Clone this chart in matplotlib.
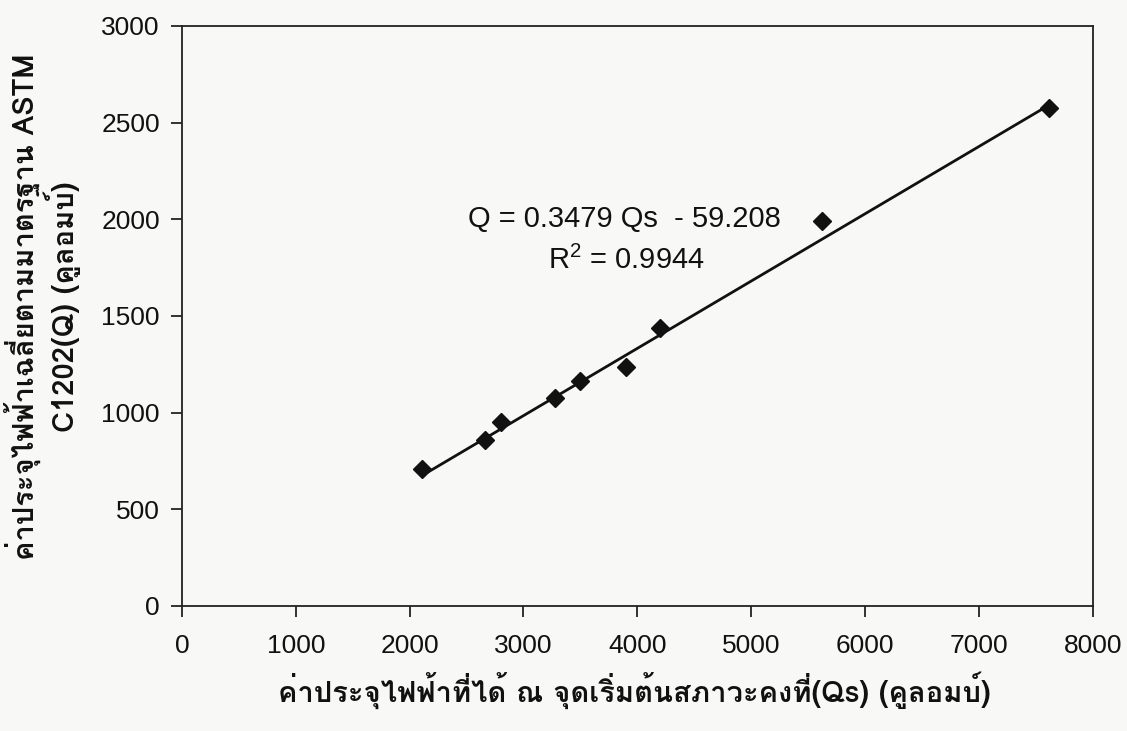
import matplotlib
matplotlib.use("Agg")
import matplotlib.pyplot as plt
from matplotlib import font_manager as fm
from matplotlib.ft2font import FT2Font
import numpy as np

# ---- data ----
qs_values = [2105, 2661, 2805, 3274, 3496, 3898, 4200, 5626, 7619]
q_values = [709, 859, 953, 1074, 1162, 1238, 1437, 1993, 2575]
fit_slope = 0.3479
fit_intercept = -59.208
x_ticks = [0, 1000, 2000, 3000, 4000, 5000, 6000, 7000, 8000]
y_ticks = [0, 500, 1000, 1500, 2000, 2500, 3000]
eq_text = "Q = 0.3479 Qs  - 59.208"
r2_text = "R$^2$ = 0.9944"
x_label = "ค่าประจุไฟฟ้าที่ได้ ณ จุดเริ่มต้นสภาวะคงที่(Qs) (คูลอมบ์)"
y_label = "ค่าประจุไฟฟ้าเฉลี่ยตามมาตรฐาน ASTM\nC1202(Q) (คูลอมบ์)"

# ---- fonts ----
def find_thai_font():
    for f in fm.fontManager.ttflist:
        try:
            ft = FT2Font(f.fname)
            if ft.get_char_index(0x0E04) and ft.get_char_index(0x0E1F):
                return f.name
        except Exception:
            pass
    return None

names = {f.name for f in fm.fontManager.ttflist}
narrow = "Liberation Sans Narrow" if "Liberation Sans Narrow" in names else "Liberation Sans"
thai = find_thai_font()
label_fam = ([thai] if thai else []) + ["Liberation Sans", "DejaVu Sans"]

plt.rcParams['font.family'] = [narrow, "DejaVu Sans"]
plt.rcParams['mathtext.fontset'] = 'custom'
plt.rcParams['mathtext.rm'] = narrow

fig = plt.figure(figsize=(11.27, 7.31), dpi=100)
fig.patch.set_facecolor("#f8f8f7")
ax = fig.add_axes([0.1615, 0.171, 0.808, 0.7935])
ax.set_facecolor("#f8f8f7")

xs = np.array([min(qs_values), max(qs_values)])
ax.plot(xs, fit_slope * xs + fit_intercept, color="#111111", lw=2.0, zorder=2)
ax.plot(qs_values, q_values, linestyle="none", marker="D", markersize=9.5,
        color="#111111", zorder=3)

ax.set_xlim(0, 8000)
ax.set_ylim(0, 3000)
ax.set_xticks(x_ticks)
ax.set_yticks(y_ticks)
ax.tick_params(axis="both", direction="out", length=8, width=1.2, labelsize=19,
               colors="#111111")
ax.tick_params(axis="x", pad=12)
ax.tick_params(axis="y", pad=8)
for s in ax.spines.values():
    s.set_linewidth(1.3)
    s.set_color("#222222")

ax.text(3890, 2000, eq_text, fontsize=21, ha="center", va="center", color="#111111")
ax.text(3900, 1790, r2_text, fontsize=21, ha="center", va="center", color="#111111")

fig.text(0.563, 0.056, x_label, fontsize=21, fontweight="bold", ha="center",
         va="center", family=label_fam, color="#111111")
fig.text(0.038, 0.58, y_label, fontsize=21, fontweight="bold", ha="center",
         va="center", rotation=90, family=label_fam, color="#111111",
         multialignment="center", linespacing=1.05)

fig.savefig("out.png", dpi=100, facecolor=fig.get_facecolor())
